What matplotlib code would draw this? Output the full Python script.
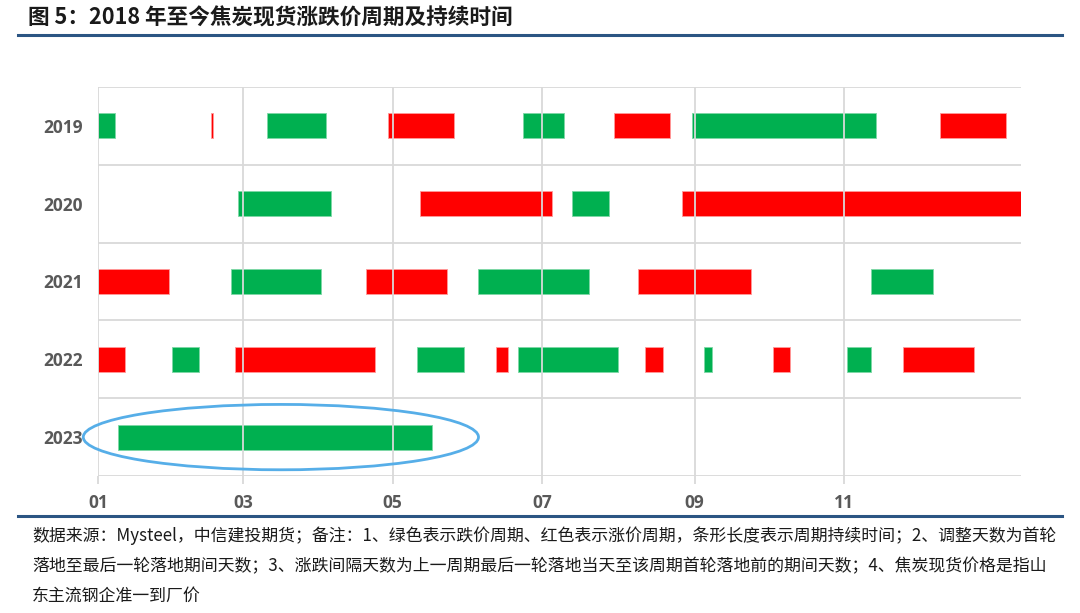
import matplotlib.pyplot as plt
from matplotlib.patches import Ellipse

plt.rcParams['font.family'] = ['Noto Sans CJK SC', 'DejaVu Sans']

# rows, top to bottom
years = ['2019', '2020', '2021', '2022', '2023']

# (start day of year, duration in days)
rise_2019 = [(46, 1), (118, 27), (210, 23), (343, 27)]
fall_2019 = [(0, 7), (69, 24), (173, 17), (242, 75)]
rise_2020 = [(131, 54), (238, 138)]
fall_2020 = [(57, 38), (193, 15)]
rise_2021 = [(0, 29), (109, 33), (220, 46)]
fall_2021 = [(54, 37), (155, 45), (315, 25)]
rise_2022 = [(0, 11), (56, 57), (162, 5), (223, 7), (275, 7), (328, 29)]
fall_2022 = [(30, 11), (130, 19), (171, 41), (247, 3), (305, 10)]
rise_2023 = []
fall_2023 = [(8, 128)]

tick_days = [0, 59, 120, 181, 243, 304]
tick_labels = ['01', '03', '05', '07', '09', '11']

rises = [rise_2019, rise_2020, rise_2021, rise_2022, rise_2023]
falls = [fall_2019, fall_2020, fall_2021, fall_2022, fall_2023]

RED = '#ff0000'
GREEN = '#00b050'
GRID = '#d9d9d9'

fig = plt.figure(figsize=(10.8, 6.13), dpi=100)
ax = fig.add_axes([98 / 1080, 1 - 476 / 613, 923 / 1080, 389 / 613])

n = len(years)
bar_h = 0.32
for i, yr in enumerate(years):
    y = n - 1 - i
    if rises[i]:
        ax.broken_barh(rises[i], (y - bar_h / 2, bar_h), facecolors=RED,
                       edgecolors='#ff9a9a', linewidth=0.6, zorder=2)
    if falls[i]:
        ax.broken_barh(falls[i], (y - bar_h / 2, bar_h), facecolors=GREEN,
                       edgecolors='#7ed8a6', linewidth=0.6, zorder=2)

ax.set_xlim(0, 376)
ax.set_ylim(-0.5, n - 0.5)

# grid: horizontal row separators, vertical month lines on top of bars
for k in range(n + 1):
    ax.axhline(k - 0.5, color=GRID, lw=1.3, zorder=1)
for d in tick_days:
    ax.axvline(d, color=GRID, lw=1.3, zorder=3)

ax.set_yticks(range(n))
ax.set_yticklabels(years[::-1], fontsize=12.5, fontweight='bold', color='#595959',
                   family=['Open Sans', 'DejaVu Sans'])
ax.set_xticks(tick_days)
ax.set_xticklabels(tick_labels, fontsize=12.5, fontweight='bold', color='#595959',
                   family=['Open Sans', 'DejaVu Sans'])
ax.tick_params(axis='y', length=0, pad=11)
ax.tick_params(axis='x', length=6, width=1.3, color=GRID, pad=7)
for s in ax.spines.values():
    s.set_visible(False)

# highlight around 2023
ax.add_patch(Ellipse((74.5, 0), 161, 0.84, fill=False, edgecolor='#56aee8',
                     lw=2, zorder=4, clip_on=False))

# title and rules
fig.text(28 / 1080, 1 - 18 / 613, '图 5：2018 年至今焦炭现货涨跌价周期及持续时间',
         fontsize=15.6, fontweight='bold', va='center', ha='left', color='#1a1a1a')
fig.add_artist(plt.Line2D([18 / 1080, 1062 / 1080], [1 - 35 / 613, 1 - 35 / 613],
                          color='#2b5583', lw=2.2))
fig.add_artist(plt.Line2D([18 / 1080, 1062 / 1080], [1 - 516 / 613, 1 - 516 / 613],
                          color='#2b5583', lw=2.2))

notes = [
    '数据来源：Mysteel，中信建投期货；备注：1、绿色表示跌价周期、红色表示涨价周期，条形长度表示周期持续时间；2、调整天数为首轮',
    '落地至最后一轮落地期间天数；3、涨跌间隔天数为上一周期最后一轮落地当天至该周期首轮落地前的期间天数；4、焦炭现货价格是指山',
    '东主流钢企准一到厂价',
]
for j, line in enumerate(notes):
    fig.text(32 / 1080, 1 - (536 + j * 30) / 613, line, fontsize=12.2,
             va='center', ha='left', color='#1a1a1a')

fig.savefig('out.png', dpi=100)
